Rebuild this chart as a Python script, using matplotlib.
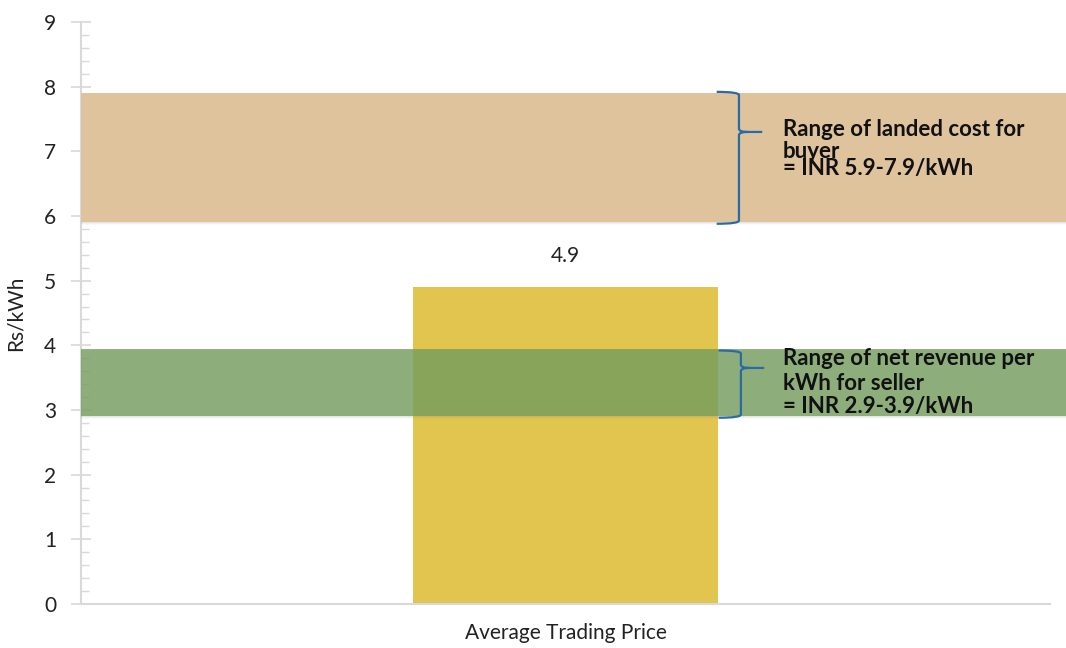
import matplotlib.pyplot as plt
import matplotlib.transforms as mtransforms
from matplotlib.path import Path
from matplotlib.patches import PathPatch, Rectangle
from matplotlib.ticker import MultipleLocator

plt.rcParams['font.family'] = ['Lato', 'DejaVu Sans']

# data
categories = ["Average Trading Price"]
prices = [4.9]
buyer_range = (5.9, 7.9)     # landed cost for buyer
seller_range = (2.9, 3.95)   # net revenue for seller
buyer_text = "Range of landed cost for\nbuyer"
buyer_value = "= INR 5.9-7.9/kWh"
seller_text = "Range of net revenue per\nkWh for seller"
seller_value = "= INR 2.9-3.9/kWh"

fig = plt.figure(figsize=(10.66, 6.48), dpi=100)
ax = fig.add_axes([0.076, 0.068, 0.909, 0.898])

ax.bar(range(len(categories)), prices, width=0.314, color="#E2C54F", zorder=2)
for i, v in enumerate(prices):
    ax.text(i, v + 0.33, f"{v}", ha="center", va="bottom", fontsize=15, color="#222222")

ax.set_xlim(-0.5, 0.5)
ax.set_ylim(0, 9)
ax.set_xticks(range(len(categories)))
ax.set_xticklabels(categories, fontsize=15, color="#222222")
ax.tick_params(axis="x", length=0, pad=14)
ax.yaxis.set_major_locator(MultipleLocator(1))
ax.yaxis.set_minor_locator(MultipleLocator(0.2))
ax.tick_params(axis="y", which="major", direction="inout", length=14, width=1.2,
               color="#D9D9D9", labelsize=15, labelcolor="#222222", pad=11)
ax.tick_params(axis="y", which="minor", direction="in", length=6, width=1.0, color="#D9D9D9")
ax.set_ylabel("Rs/kWh", fontsize=15, color="#222222", labelpad=13)
for s in ["top", "right"]:
    ax.spines[s].set_visible(False)
for s in ["left", "bottom"]:
    ax.spines[s].set_color("#D9D9D9")
    ax.spines[s].set_linewidth(1.5)

trans = mtransforms.blended_transform_factory(ax.transAxes, ax.transData)

def band(lo, hi, color, alpha):
    # soft shadow below the band
    for k, a in enumerate([0.10, 0.07, 0.04]):
        ax.add_patch(Rectangle((0, lo - 0.015 * (k + 1)), 1.02, hi - lo, transform=trans,
                               color="#808080", alpha=a, lw=0, zorder=3, clip_on=False))
    ax.add_patch(Rectangle((0, lo), 1.02, hi - lo, transform=trans, facecolor=color,
                           alpha=alpha, lw=0, zorder=4, clip_on=False))

band(*buyer_range, "#DEC39C", 1.0)
band(*seller_range, "#759F5C", 0.78)

def brace(lo, hi, cusp, xv):
    xt, xc = xv - 0.023, xv + 0.024
    r = 0.05
    verts = [(xt, hi), (xv, hi), (xv, hi - r), (xv, cusp + r),
             (xv, cusp), (xc - 0.015, cusp), (xc, cusp),
             (xc - 0.015, cusp), (xv, cusp), (xv, cusp - r),
             (xv, lo + r), (xv, lo), (xt, lo)]
    codes = [Path.MOVETO, Path.CURVE3, Path.CURVE3, Path.LINETO,
             Path.CURVE3, Path.CURVE3, Path.LINETO,
             Path.MOVETO, Path.CURVE3, Path.CURVE3,
             Path.LINETO, Path.CURVE3, Path.CURVE3]
    ax.add_patch(PathPatch(Path(verts, codes), transform=trans, fill=False,
                           edgecolor="#2A6AA5", lw=1.6, zorder=6, clip_on=False))

brace(buyer_range[0] - 0.02, buyer_range[1] + 0.02, 7.3, 0.679)
brace(seller_range[0] - 0.02, 3.92, 3.65, 0.681)

ax.text(0.724, 7.17, buyer_text, transform=trans, fontsize=16, fontweight="bold",
        va="center", linespacing=1.1, color="#111111", zorder=7)
ax.text(0.724, 6.74, buyer_value, transform=trans, fontsize=16, fontweight="bold",
        va="center", color="#111111", zorder=7)
ax.text(0.724, 3.60, seller_text, transform=trans, fontsize=16, fontweight="bold",
        va="center", linespacing=1.25, color="#111111", zorder=7)
ax.text(0.724, 3.05, seller_value, transform=trans, fontsize=16, fontweight="bold",
        va="center", color="#111111", zorder=7)

fig.savefig("out.png", dpi=100)
